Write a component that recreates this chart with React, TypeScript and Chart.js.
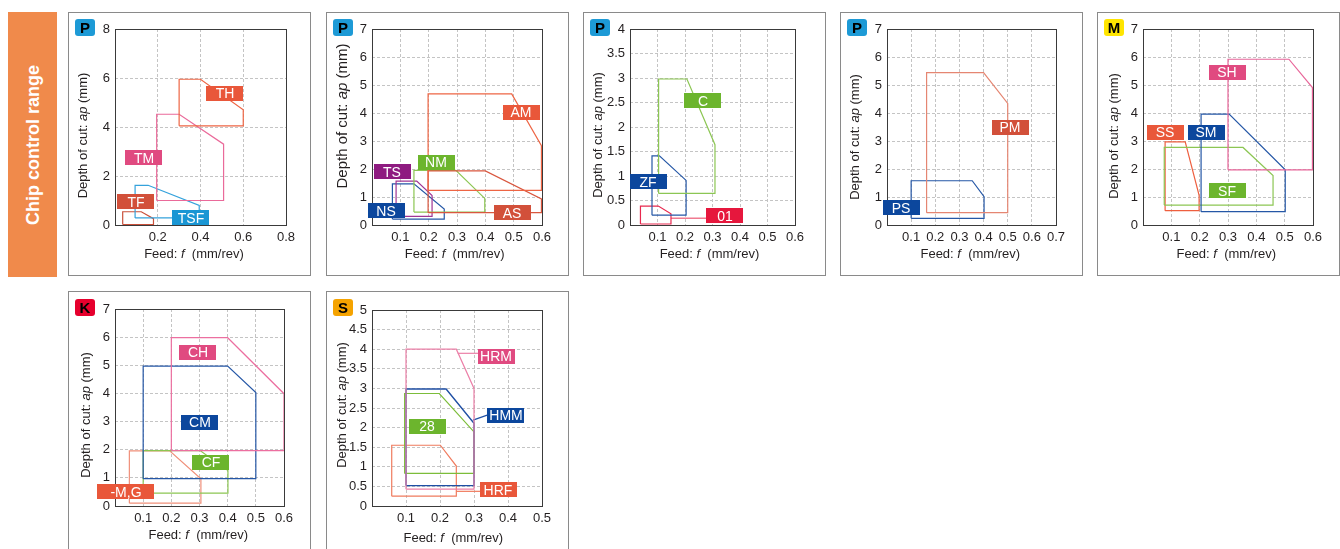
import React, { useEffect, useRef } from 'react';
import { Chart, registerables } from 'chart.js';
Chart.register(...registerables);

type Pt = [number, number];
const FONT = "'Liberation Sans', Arial, Helvetica, sans-serif";

// ---------- Panel 1 (P) ----------
const p1XTicks = [0, 0.2, 0.4, 0.6, 0.8];
const p1YTicks = [0, 2, 4, 6, 8];
const p1TH: Pt[] = [[0.3, 4.05], [0.3, 5.95], [0.4, 5.95], [0.6, 4.7], [0.6, 4.05], [0.3, 4.05]];
const p1TM: Pt[] = [[0.195, 1.0], [0.195, 4.52], [0.3, 4.52], [0.508, 3.3], [0.508, 1.0], [0.195, 1.0]];
const p1TSF: Pt[] = [[0.094, 0.29], [0.094, 1.62], [0.155, 1.62], [0.394, 0.8], [0.394, 0.29], [0.094, 0.29]];
const p1TF: Pt[] = [[0.036, 0.02], [0.036, 0.54], [0.123, 0.54], [0.18, 0.26], [0.18, 0.02], [0.036, 0.02]];
const p1LabelText = ['TH', 'TM', 'TF', 'TSF'];
const p1LabelX = [0.513, 0.135, 0.098, 0.355];
const p1LabelY = [5.385, 2.74, 0.95, 0.3];

// ---------- Panel 2 (P) ----------
const p2XTicks = [0, 0.1, 0.2, 0.3, 0.4, 0.5, 0.6];
const p2YTicks = [0, 1, 2, 3, 4, 5, 6, 7];
const p2AM: Pt[] = [[0.198, 1.24], [0.198, 4.68], [0.493, 4.68], [0.598, 2.83], [0.598, 1.24], [0.198, 1.24]];
const p2AS: Pt[] = [[0.198, 0.44], [0.198, 1.93], [0.4, 1.93], [0.598, 0.93], [0.598, 0.44], [0.198, 0.44]];
const p2NM: Pt[] = [[0.148, 0.46], [0.148, 1.95], [0.296, 1.95], [0.398, 0.95], [0.398, 0.46], [0.148, 0.46]];
const p2TS: Pt[] = [[0.085, 0.31], [0.085, 1.57], [0.158, 1.57], [0.212, 1.05], [0.212, 0.31], [0.085, 0.31]];
const p2NS: Pt[] = [[0.072, 0.21], [0.072, 1.47], [0.148, 1.47], [0.255, 0.57], [0.255, 0.21], [0.072, 0.21]];
const p2LabelText = ['AM', 'NM', 'TS', 'NS', 'AS'];
const p2LabelX = [0.5265, 0.227, 0.072, 0.051, 0.495];
const p2LabelY = [4.035, 2.25, 1.9, 0.505, 0.434];

// ---------- Panel 3 (P) ----------
const p3XTicks = [0, 0.1, 0.2, 0.3, 0.4, 0.5, 0.6];
const p3YTicks = [0, 0.5, 1, 1.5, 2, 2.5, 3, 3.5, 4];
const p3C: Pt[] = [[0.104, 0.645], [0.104, 2.98], [0.207, 2.98], [0.309, 1.64], [0.309, 0.645], [0.104, 0.645]];
const p3ZF: Pt[] = [[0.08, 0.2], [0.08, 1.41], [0.107, 1.41], [0.204, 0.91], [0.204, 0.2], [0.08, 0.2]];
const p301: Pt[] = [[0.038, 0.02], [0.038, 0.387], [0.103, 0.387], [0.149, 0.23], [0.149, 0.02], [0.038, 0.02]];
const p301Lead: Pt[] = [[0.149, 0.136], [0.278, 0.136]];
const p3LabelText = ['C', 'ZF', '01'];
const p3LabelX = [0.264, 0.0667, 0.344];
const p3LabelY = [2.533, 0.883, 0.187];

// ---------- Panel 4 (P) ----------
const p4XTicks = [0, 0.1, 0.2, 0.3, 0.4, 0.5, 0.6, 0.7];
const p4YTicks = [0, 1, 2, 3, 4, 5, 6, 7];
const p4PM: Pt[] = [[0.164, 0.44], [0.164, 5.44], [0.4, 5.44], [0.5, 4.34], [0.5, 0.44], [0.164, 0.44]];
const p4PS: Pt[] = [[0.1, 0.24], [0.1, 1.58], [0.353, 1.58], [0.402, 1.01], [0.402, 0.24], [0.1, 0.24]];
const p4LabelText = ['PM', 'PS'];
const p4LabelX = [0.511, 0.058];
const p4LabelY = [3.494, 0.624];

// ---------- Panel 5 (M) ----------
const p5XTicks = [0, 0.1, 0.2, 0.3, 0.4, 0.5, 0.6];
const p5YTicks = [0, 1, 2, 3, 4, 5, 6, 7];
const p5SH: Pt[] = [[0.3, 1.97], [0.3, 5.92], [0.515, 5.92], [0.598, 4.91], [0.598, 1.97], [0.3, 1.97]];
const p5SM: Pt[] = [[0.205, 0.475], [0.205, 3.96], [0.304, 3.96], [0.502, 1.97], [0.502, 0.475], [0.205, 0.475]];
const p5SF: Pt[] = [[0.075, 0.71], [0.075, 2.77], [0.353, 2.77], [0.459, 1.77], [0.459, 0.71], [0.075, 0.71]];
const p5SS: Pt[] = [[0.078, 0.51], [0.078, 2.97], [0.149, 2.97], [0.198, 1.06], [0.198, 0.51], [0.078, 0.51]];
const p5LabelText = ['SH', 'SS', 'SM', 'SF'];
const p5LabelX = [0.298, 0.079, 0.2235, 0.298];
const p5LabelY = [5.46, 3.32, 3.32, 1.23];

// ---------- Panel 6 (K) ----------
const p6XTicks = [0, 0.1, 0.2, 0.3, 0.4, 0.5, 0.6];
const p6YTicks = [0, 1, 2, 3, 4, 5, 6, 7];
const p6CH: Pt[] = [[0.2, 1.97], [0.2, 5.98], [0.4, 5.98], [0.6, 3.99], [0.6, 1.97], [0.2, 1.97]];
const p6CM: Pt[] = [[0.1, 0.97], [0.1, 4.97], [0.4, 4.97], [0.5, 4.03], [0.5, 0.97], [0.1, 0.97]];
const p6CF: Pt[] = [[0.1, 0.46], [0.1, 1.97], [0.302, 1.97], [0.401, 1.26], [0.401, 0.46], [0.1, 0.46]];
const p6MG: Pt[] = [[0.051, 0.1], [0.051, 1.96], [0.194, 1.96], [0.305, 0.97], [0.305, 0.1], [0.051, 0.1]];
const p6LabelText = ['CH', 'CM', 'CF', '-M,G'];
const p6LabelX = [0.293, 0.301, 0.34, 0.039];
const p6LabelY = [5.46, 2.98, 1.554, 0.504];

// ---------- Panel 7 (S) ----------
const p7XTicks = [0, 0.1, 0.2, 0.3, 0.4, 0.5];
const p7YTicks = [0, 0.5, 1, 1.5, 2, 2.5, 3, 3.5, 4, 4.5, 5];
const p7HRM: Pt[] = [[0.1, 0.43], [0.1, 4.0], [0.248, 4.0], [0.3, 3.0], [0.3, 0.43], [0.1, 0.43]];
const p7HMM: Pt[] = [[0.1, 0.52], [0.1, 2.985], [0.218, 2.985], [0.3, 2.11], [0.3, 0.52], [0.1, 0.52]];
const p728: Pt[] = [[0.096, 0.83], [0.096, 2.87], [0.198, 2.87], [0.3, 1.89], [0.3, 0.83], [0.096, 0.83]];
const p7HRF: Pt[] = [[0.058, 0.25], [0.058, 1.55], [0.201, 1.55], [0.248, 1.02], [0.248, 0.25], [0.058, 0.25]];
const p7HRMLead: Pt[] = [[0.252, 3.895], [0.312, 3.895]];
const p7HMMLead: Pt[] = [[0.297, 2.19], [0.343, 2.33]];
const p7HRFLead: Pt[] = [[0.248, 0.374], [0.318, 0.374]];
const p7LabelText = ['HRM', 'HMM', '28', 'HRF'];
const p7LabelX = [0.366, 0.394, 0.162, 0.372];
const p7LabelY = [3.82, 2.31, 2.03, 0.412];

// ---------- Styles ----------
const C_ORANGE = '#e9573a';
const C_BROWN = '#d2503a';
const C_PINK = '#e04a80';
const C_CYAN = '#1a96d4';
const C_NAVY = '#0c479d';
const C_GREEN = '#6cb52d';
const C_PURPLE = '#8e1b80';
const C_RED = '#e6173d';

const L_ORANGE = '#ee6544';
const L_PINK = '#ea6a9a';
const L_NAVY = '#2557a6';
const L_GREEN = '#8cc653';

interface Shape { pts: Pt[]; color: string; width?: number }
interface PanelCfg {
  x: number; y: number; w: number; h: number;
  area: [number, number, number, number];
  xMax: number; yMax: number; xTicks: number[]; yTicks: number[];
  badge: string; badgeColor: string; badgeTop: number;
  shapes: Shape[];
  labelText: string[]; labelX: number[]; labelY: number[]; labelColors: string[]; labelW?: number[];
  yT: [number, number]; xT: [number, number]; yTSize?: number;
}

const panels: PanelCfg[] = [
  {
    x: 68, y: 12, w: 243, h: 264, area: [47, 17, 218, 213], xMax: 0.8, yMax: 8,
    xTicks: p1XTicks, yTicks: p1YTicks, badge: 'P', badgeColor: '#1d9ad6', badgeTop: 7,
    shapes: [
      { pts: p1TH, color: L_ORANGE }, { pts: p1TM, color: L_PINK },
      { pts: p1TSF, color: '#34a2dc' }, { pts: p1TF, color: '#c9503a' },
    ],
    labelText: p1LabelText, labelX: p1LabelX, labelY: p1LabelY,
    labelColors: [C_ORANGE, C_PINK, C_BROWN, C_CYAN],
    yT: [15, 123.5], xT: [126, 242],
  },
  {
    x: 326, y: 12, w: 243, h: 264, area: [46, 17, 216, 213], xMax: 0.6, yMax: 7,
    xTicks: p2XTicks, yTicks: p2YTicks, badge: 'P', badgeColor: '#1d9ad6', badgeTop: 7,
    shapes: [
      { pts: p2AM, color: L_ORANGE }, { pts: p2AS, color: '#d9573f' },
      { pts: p2NM, color: L_GREEN }, { pts: p2TS, color: '#a03594' }, { pts: p2NS, color: L_NAVY },
    ],
    labelText: p2LabelText, labelX: p2LabelX, labelY: p2LabelY,
    labelColors: [C_ORANGE, C_GREEN, C_PURPLE, C_NAVY, C_BROWN],
    yT: [17, 104], xT: [128.7, 242], yTSize: 15,
  },
  {
    x: 583, y: 12, w: 243, h: 264, area: [47, 17, 212, 213], xMax: 0.6, yMax: 4,
    xTicks: p3XTicks, yTicks: p3YTicks, badge: 'P', badgeColor: '#1d9ad6', badgeTop: 7,
    shapes: [
      { pts: p3C, color: L_GREEN }, { pts: p3ZF, color: L_NAVY },
      { pts: p301, color: '#e8284e' }, { pts: p301Lead, color: '#f07a90', width: 1.5 },
    ],
    labelText: p3LabelText, labelX: p3LabelX, labelY: p3LabelY,
    labelColors: [C_GREEN, C_NAVY, C_RED],
    yT: [15, 123], xT: [126.5, 242],
  },
  {
    x: 840, y: 12, w: 243, h: 264, area: [47, 17, 216, 213], xMax: 0.7, yMax: 7,
    xTicks: p4XTicks, yTicks: p4YTicks, badge: 'P', badgeColor: '#1d9ad6', badgeTop: 7,
    shapes: [{ pts: p4PM, color: '#e58672' }, { pts: p4PS, color: L_NAVY }],
    labelText: p4LabelText, labelX: p4LabelX, labelY: p4LabelY,
    labelColors: [C_BROWN, C_NAVY],
    yT: [15.5, 125], xT: [130.3, 242],
  },
  {
    x: 1097, y: 12, w: 243, h: 264, area: [46, 17, 216, 213], xMax: 0.6, yMax: 7,
    xTicks: p5XTicks, yTicks: p5YTicks, badge: 'M', badgeColor: '#ffe500', badgeTop: 7,
    shapes: [
      { pts: p5SH, color: '#e8669a' }, { pts: p5SM, color: L_NAVY },
      { pts: p5SF, color: L_GREEN }, { pts: p5SS, color: '#ee5f3f' },
    ],
    labelText: p5LabelText, labelX: p5LabelX, labelY: p5LabelY,
    labelColors: [C_PINK, C_ORANGE, C_NAVY, C_GREEN],
    yT: [17.5, 124], xT: [129.3, 242],
  },
  {
    x: 68, y: 291, w: 243, h: 270, area: [47, 18, 216, 215], xMax: 0.6, yMax: 7,
    xTicks: p6XTicks, yTicks: p6YTicks, badge: 'K', badgeColor: '#e6002d', badgeTop: 8,
    shapes: [
      { pts: p6CH, color: '#ec6fa0' }, { pts: p6CM, color: L_NAVY },
      { pts: p6CF, color: L_GREEN }, { pts: p6MG, color: '#f0907a' },
    ],
    labelText: p6LabelText, labelX: p6LabelX, labelY: p6LabelY,
    labelColors: [C_PINK, C_NAVY, C_GREEN, C_ORANGE], labelW: [37, 37, 37, 57],
    yT: [18, 124], xT: [130.3, 244],
  },
  {
    x: 326, y: 291, w: 243, h: 270, area: [46, 19, 216, 215], xMax: 0.5, yMax: 5,
    xTicks: p7XTicks, yTicks: p7YTicks, badge: 'S', badgeColor: '#f5a300', badgeTop: 8,
    shapes: [
      { pts: p7HRM, color: '#ec80a8' }, { pts: p7HMM, color: '#1f4fa4', width: 1.4 },
      { pts: p728, color: '#7cbd3a' }, { pts: p7HRF, color: '#f07b5e' },
      { pts: p7HRMLead, color: '#ec80a8' }, { pts: p7HMMLead, color: '#1f4fa4' },
      { pts: p7HRFLead, color: '#f07b5e' },
    ],
    labelText: p7LabelText, labelX: p7LabelX, labelY: p7LabelY,
    labelColors: [C_PINK, C_NAVY, C_GREEN, C_ORANGE],
    yT: [16, 114], xT: [127.3, 247],
  },
];

const xTitleParts: [string, boolean][] = [['Feed: ', false], ['f', true], ['  (mm/rev)', false]];
const yTitleParts: [string, boolean][] = [['Depth of cut: ', false], ['ap', true], [' (mm)', false]];

const fmt = (v: number) => String(Math.round(v * 100) / 100);

function Panel({ cfg }: { cfg: PanelCfg }) {
  const ref = useRef<HTMLCanvasElement | null>(null);
  useEffect(() => {
    const canvas = ref.current;
    if (!canvas) return;
    const [L, T, R, B] = cfg.area;
    const W = cfg.w, H = cfg.h;
    const YW = 30, XH = 24;
    const al = (v: number) => Math.round(v - 0.5) + 0.5;
    const drawRich = (ctx: CanvasRenderingContext2D, parts: [string, boolean][], size: number) => {
      let total = 0;
      const widths = parts.map(([s, it]) => {
        ctx.font = `${it ? 'italic ' : ''}${size}px ${FONT}`;
        const w = ctx.measureText(s).width;
        total += w;
        return w;
      });
      let x = -total / 2;
      ctx.textAlign = 'left';
      ctx.textBaseline = 'middle';
      ctx.fillStyle = '#231f20';
      parts.forEach(([s, it], i) => {
        ctx.font = `${it ? 'italic ' : ''}${size}px ${FONT}`;
        ctx.fillText(s, x, 0);
        x += widths[i];
      });
    };
    const decor = {
      id: 'decor',
      beforeDatasetsDraw(chart: any) {
        const { ctx, chartArea: a } = chart;
        ctx.save();
        ctx.setLineDash([]);
        ctx.strokeStyle = '#3a3a3a';
        ctx.lineWidth = 1;
        ctx.strokeRect(al(a.left), al(a.top), al(a.right) - al(a.left), al(a.bottom) - al(a.top));
        ctx.restore();
      },
      afterDatasetsDraw(chart: any) {
        const { ctx } = chart;
        const xs = chart.scales.x, ys = chart.scales.y;
        ctx.save();
        cfg.labelText.forEach((t, i) => {
          const cx = xs.getPixelForValue(cfg.labelX[i]);
          const cy = ys.getPixelForValue(cfg.labelY[i]);
          const w = cfg.labelW ? cfg.labelW[i] : 37;
          const h = 15;
          ctx.fillStyle = cfg.labelColors[i];
          ctx.fillRect(Math.round(cx - w / 2), Math.round(cy - h / 2), w, h);
          ctx.fillStyle = '#ffffff';
          ctx.font = `14px ${FONT}`;
          ctx.textAlign = 'center';
          ctx.textBaseline = 'middle';
          ctx.fillText(t, Math.round(cx), Math.round(cy) + 1);
        });
        ctx.restore();
      },
      afterDraw(chart: any) {
        const { ctx } = chart;
        ctx.save();
        ctx.translate(cfg.xT[0], cfg.xT[1]);
        drawRich(ctx, xTitleParts, 13);
        ctx.restore();
        ctx.save();
        ctx.translate(cfg.yT[0], cfg.yT[1]);
        ctx.rotate(-Math.PI / 2);
        drawRich(ctx, yTitleParts, cfg.yTSize ?? 13);
        ctx.restore();
      },
    };
    const tickFont = { family: FONT, size: 13 };
    const chart = new Chart(canvas, {
      type: 'scatter',
      data: {
        datasets: cfg.shapes.map((s) => ({
          data: s.pts.map(([x, y]) => ({ x, y })),
          showLine: true,
          borderColor: s.color,
          backgroundColor: s.color,
          borderWidth: s.width ?? 1.2,
          pointRadius: 0,
          fill: false,
          tension: 0,
        })),
      },
      options: {
        animation: false,
        responsive: false,
        devicePixelRatio: 1,
        events: [],
        layout: { padding: { left: L - YW, top: T, right: W - R, bottom: H - B - XH } },
        plugins: { legend: { display: false }, tooltip: { enabled: false } },
        scales: {
          x: {
            type: 'linear',
            min: 0,
            max: cfg.xMax,
            afterFit: (s: any) => { s.height = XH; },
            afterBuildTicks: (s: any) => { s.ticks = cfg.xTicks.map((v) => ({ value: v })); },
            ticks: {
              callback: (v: any) => (v === 0 ? '' : fmt(Number(v))),
              font: tickFont, color: '#231f20', padding: 5, maxRotation: 0, autoSkip: false,
            },
            grid: { color: '#c4c4c4', drawTicks: false, lineWidth: 1 },
            border: { display: false, dash: [3, 2] },
          },
          y: {
            type: 'linear',
            min: 0,
            max: cfg.yMax,
            afterFit: (s: any) => { s.width = YW; },
            afterBuildTicks: (s: any) => { s.ticks = cfg.yTicks.map((v) => ({ value: v })); },
            ticks: {
              callback: (v: any) => fmt(Number(v)),
              font: tickFont, color: '#231f20', padding: 5, autoSkip: false,
            },
            grid: { color: '#c4c4c4', drawTicks: false, lineWidth: 1 },
            border: { display: false, dash: [3, 2] },
          },
        },
      } as any,
      plugins: [decor],
    });
    return () => chart.destroy();
  }, [cfg]);

  return (
    <div style={{ position: 'absolute', left: cfg.x, top: cfg.y, width: cfg.w, height: cfg.h }}>
      <canvas
        ref={ref}
        width={cfg.w}
        height={cfg.h}
        style={{ position: 'absolute', left: 0, top: 0, width: cfg.w, height: cfg.h }}
      />
      <div
        style={{
          position: 'absolute', left: 0, top: 0, width: cfg.w, height: cfg.h,
          border: '1px solid #8a8a8a', boxSizing: 'border-box', pointerEvents: 'none',
        }}
      />
      <div
        style={{
          position: 'absolute', left: 7, top: cfg.badgeTop, width: 20, height: 17, borderRadius: 3,
          background: cfg.badgeColor, color: '#000', font: `bold 15px ${FONT}`,
          lineHeight: '17px', textAlign: 'center',
        }}
      >
        {cfg.badge}
      </div>
    </div>
  );
}

export default function App() {
  return (
    <div
      style={{
        position: 'absolute', left: 0, top: 0, width: 1340, height: 549,
        background: '#ffffff', overflow: 'hidden',
      }}
    >
      <div style={{ position: 'absolute', left: 8, top: 12, width: 49, height: 265, background: '#f08a4b' }}>
        <div
          style={{
            position: 'absolute', left: '50%', top: '50%',
            transform: 'translate(-50%, -50%) rotate(-90deg)', whiteSpace: 'nowrap',
            color: '#ffffff', font: `bold 18px ${FONT}`,
          }}
        >
          Chip control range
        </div>
      </div>
      {panels.map((p, i) => (
        <Panel key={i} cfg={p} />
      ))}
    </div>
  );
}
